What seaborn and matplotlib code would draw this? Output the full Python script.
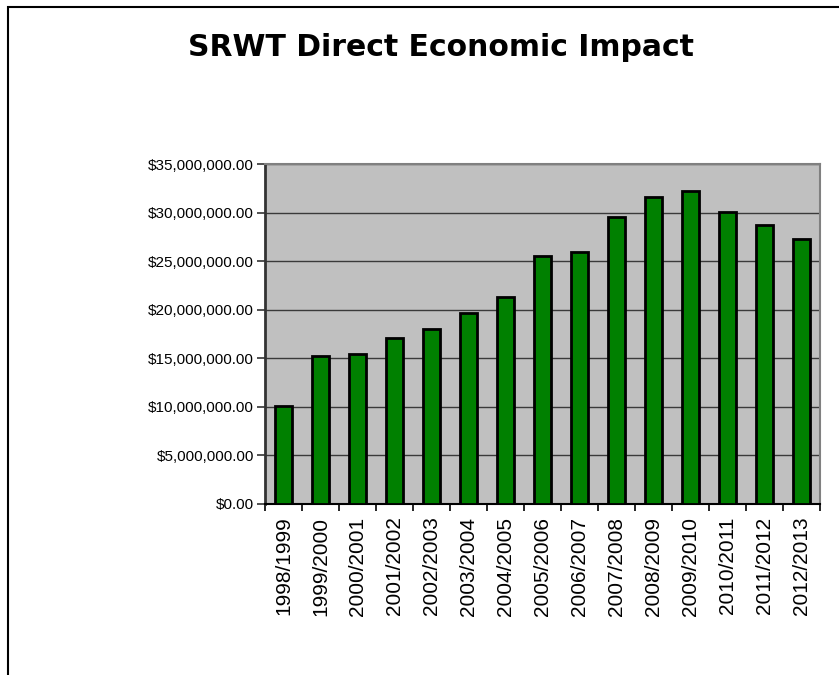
import matplotlib
matplotlib.use("Agg")
import matplotlib.pyplot as plt
import matplotlib.ticker as mticker
from matplotlib.patches import Rectangle
import numpy as np
import pandas as pd
import seaborn as sns

# data
seasons = ['1998/1999', '1999/2000', '2000/2001', '2001/2002', '2002/2003',
           '2003/2004', '2004/2005', '2005/2006', '2006/2007', '2007/2008',
           '2008/2009', '2009/2010', '2010/2011', '2011/2012', '2012/2013']
impact = [10.1e6, 15.2e6, 15.45e6, 17.1e6, 18.05e6,
          19.7e6, 21.3e6, 25.5e6, 25.9e6, 29.5e6,
          31.6e6, 32.2e6, 30.1e6, 28.7e6, 27.3e6]
y_ticks = [0, 5e6, 10e6, 15e6, 20e6, 25e6, 30e6, 35e6]

df = pd.DataFrame({'Season': seasons, 'Impact': impact})

sns.set_style("white")
plt.rcParams['font.family'] = ['Liberation Sans', 'DejaVu Sans']
plt.rcParams['text.color'] = 'black'
plt.rcParams['xtick.color'] = 'black'
plt.rcParams['ytick.color'] = 'black'

fig = plt.figure(figsize=(8.39, 6.75), dpi=100)
ax = fig.add_axes([265 / 839, 1 - 504 / 675, (820 - 265) / 839, (504 - 164) / 675])
ax.set_facecolor('#C0C0C0')

sns.barplot(data=df, x='Season', y='Impact', color='#008000', saturation=1,
            edgecolor='black', linewidth=2, width=0.45, ax=ax, zorder=3)

ax.set_ylim(0, 35e6)
ax.set_xlim(-0.5, len(seasons) - 0.5)
ax.set_yticks(y_ticks)
ax.yaxis.set_major_formatter(mticker.FuncFormatter(lambda v, p: f"${v:,.2f}"))
ax.yaxis.grid(True, color='#3a3a3a', linewidth=1)
ax.set_axisbelow(True)

# ticks between categories, labels under each bar
ax.set_xticks(np.arange(len(seasons) + 1) - 0.5)
ax.set_xticklabels([])
ax.set_xticks(np.arange(len(seasons)), minor=True)
ax.set_xticklabels(seasons, minor=True, rotation=90, fontsize=15)
ax.tick_params(axis='x', which='major', length=5, width=1.2, color='black', direction='out', bottom=True)
ax.tick_params(axis='x', which='minor', length=0, pad=9, labelcolor='black')
ax.tick_params(axis='y', length=6, width=1.2, color='#333333', direction='out', left=True,
               labelsize=11, pad=2, labelcolor='black')

ax.set_xlabel('')
ax.set_ylabel('')

for side in ['top', 'right']:
    ax.spines[side].set_color('#808080')
    ax.spines[side].set_linewidth(1.5)
ax.spines['left'].set_color('#333333')
ax.spines['left'].set_linewidth(2)
ax.spines['bottom'].set_color('black')
ax.spines['bottom'].set_linewidth(1.5)

fig.text(441 / 839, 1 - 48 / 675, 'SRWT Direct Economic Impact', ha='center', va='center',
         fontsize=21.5, fontweight='bold', color='black', family=['DejaVu Sans'])

# outer chart frame (runs off the right and bottom edge)
fig.add_artist(Rectangle((8 / 839, -0.1), 1.2, 1.1 - 7 / 675, transform=fig.transFigure,
                         fill=False, edgecolor='black', linewidth=1.5))

plt.savefig('out.png', dpi=100)
plt.close()
